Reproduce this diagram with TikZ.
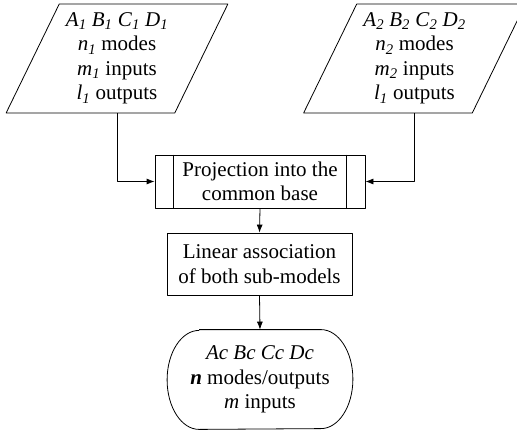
\documentclass[tikz,border=0pt]{standalone}
\usepackage{fontspec}
\setmainfont{Liberation Serif}
\usetikzlibrary{shapes.geometric,arrows.meta}
\newcommand\vsym[2]{\textit{#1}\textsubscript{\textit{#2}}}
\begin{document}
\begin{tikzpicture}[x=1pt,y=-1pt,line width=0.8pt,line join=round,>={Latex[length=8pt,width=6pt]},
  txt/.style={align=center,font=\fontsize{21}{24.5}\selectfont,inner sep=2pt},
  donnee/.style={txt,draw,trapezium,trapezium left angle=63,trapezium right angle=117,
    trapezium stretches=true,minimum width=222pt,minimum height=109pt},
  boite/.style={txt,draw,rectangle}]
  \clip (0,0) rectangle (517,434);
  %%% sous-modeles
  \node[donnee] (sm1) at (117,58.5) {\vsym{A}{1} \vsym{B}{1} \vsym{C}{1} \vsym{D}{1}\\
    \vsym{n}{1} modes\\ \vsym{m}{1} inputs\\ \vsym{l}{1} outputs};
  \node[donnee] (sm2) at (414.5,58.5) {\vsym{A}{2} \vsym{B}{2} \vsym{C}{2} \vsym{D}{2}\\
    \vsym{n}{2} modes\\ \vsym{m}{2} inputs\\ \vsym{l}{1} outputs};
  %%% projection
  \node[boite,minimum width=210pt,minimum height=53pt] (proj) at (260,181.5) {Projection into the\\common base};
  \draw ([xshift=19pt]proj.north west) -- ([xshift=19pt]proj.south west);
  \draw ([xshift=-19pt]proj.north east) -- ([xshift=-19pt]proj.south east);
  %%% association
  \node[boite,minimum width=185pt,minimum height=62pt] (assoc) at (259.5,264) {Linear association\\of both sub-models};
  %%% modele final
  \node[txt,minimum width=185pt,minimum height=99pt] (final) at (260,379.5) {\textit{Ac Bc Cc Dc}\\
    \textbf{\textit{n}} modes/outputs\\ \textit{m} inputs};
  \draw ([xshift=32pt]final.north west) -- ([xshift=-32pt]final.north east)
    arc[start angle=90,end angle=-90,x radius=32pt,y radius=49.5pt]
    -- ([xshift=32pt]final.south west)
    arc[start angle=270,end angle=90,x radius=32pt,y radius=49.5pt];
  %%% liaisons
  \draw[->] (sm1.south) |- (proj.west);
  \draw[->] (sm2.south) |- (proj.east);
  \draw[->] (proj.south) -- (assoc.north);
  \draw[->] (assoc.south) -- (final.north);
\end{tikzpicture}
\end{document}
